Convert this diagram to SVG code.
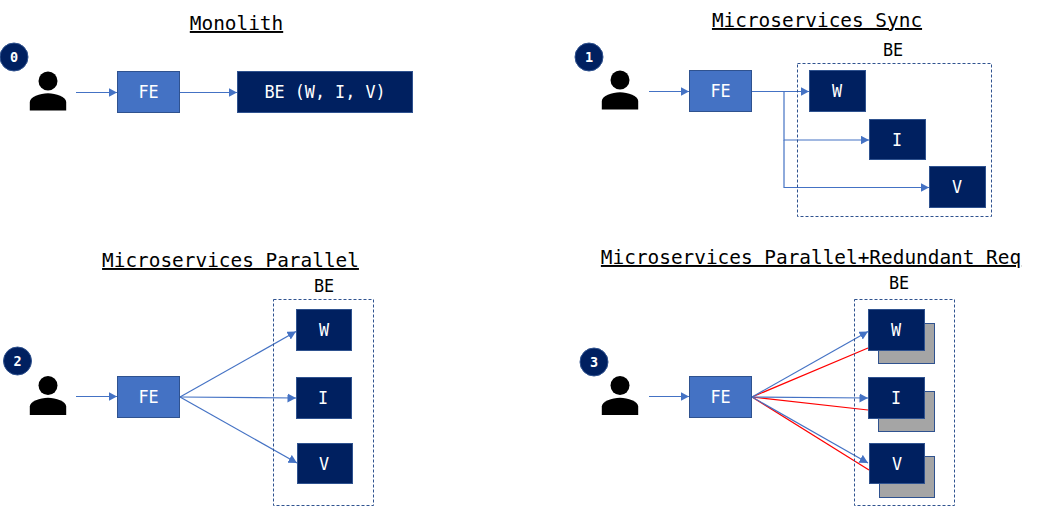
<svg xmlns="http://www.w3.org/2000/svg" width="1039" height="506" viewBox="0 0 1039 506">
<style>
text{font-family:"DejaVu Sans Mono","Liberation Mono",monospace;text-anchor:middle}
.title{font-size:19.4px;fill:#000;text-decoration:underline}
.fe{fill:#4472C4;stroke:#2F528F;stroke-width:1}
.be{fill:#002060;stroke:#2F528F;stroke-width:1}
.shadow{fill:#A5A5A5;stroke:#2F528F;stroke-width:1}
.group{fill:none;stroke:#2F528F;stroke-width:1;stroke-dasharray:3 2}
.lbl{font-size:16.8px;fill:#fff}
.blbl{font-size:16.8px;fill:#000}
.badge{fill:#002060;stroke:#2F528F;stroke-width:1}
.num{font-size:13.5px;font-weight:bold;fill:#fff}
.c{fill:none;stroke:#4472C4;stroke-width:1.2}
.a{marker-end:url(#arrow)}
.r{fill:none;stroke:#FF0000;stroke-width:1.2}
</style>
<defs>
<marker id="arrow" markerUnits="userSpaceOnUse" markerWidth="10" markerHeight="10" refX="8.500" refY="4.500" orient="auto"><path d="M0 0L8.500 4.500L0 9Z" fill="#4472C4"/></marker>
<g id="person"><circle cx="0" cy="0" r="9.5" fill="#000"/><path d="M-18.2 29.5V21C-18.2 16 -8 12.2 0 12.2C8 12.2 18.2 16 18.2 21V29.5Z" fill="#000"/></g>
</defs>

<g id="titles">
<text class="title" x="236.5" y="30">Monolith</text>
<text class="title" x="817" y="27">Microservices Sync</text>
<text class="title" x="230.5" y="267">Microservices Parallel</text>
<text class="title" x="811" y="264">Microservices Parallel+Redundant Req</text>
</g>

<g id="connectors">
<path class="c a" d="M76 92.500H117"/>
<path class="c a" d="M180 92.500H237"/>
<path class="c a" d="M649 91.500H689"/>
<path class="c a" d="M752 91.500H809"/>
<path class="c a" d="M784 91.500V140H869"/>
<path class="c a" d="M784 140V187.500H929"/>
<path class="c a" d="M76 396.500H117"/>
<path class="c a" d="M180 397L296 331.500"/>
<path class="c a" d="M180 397L296 398"/>
<path class="c a" d="M180 397L297 463"/>
<path class="c a" d="M649 396.500H689"/>
<path class="r" d="M752 397L868 348"/>
<path class="r" d="M752 397L868 410"/>
<path class="r" d="M752 397L869 470"/>
<path class="c a" d="M752 397L868 331.500"/>
<path class="c a" d="M752 397L868 398"/>
<path class="c a" d="M752 397L868 463"/>
</g>

<g id="panel0">
<g id="badge0"><circle class="badge" cx="14" cy="57" r="14"/><text class="num" x="14" y="62">0</text></g>
<g id="user0"><use href="#person" x="48" y="81"/></g>
<g id="fe0"><rect class="fe" x="117.500" y="71.500" width="62" height="41"/><text class="lbl" x="148.500" y="98">FE</text></g>
<g id="be0"><rect class="be" x="237.500" y="71.500" width="175" height="41"/><text class="lbl" x="325" y="98">BE (W, I, V)</text></g>
</g>

<g id="panel1">
<g id="badge1"><circle class="badge" cx="589" cy="57" r="14"/><text class="num" x="589" y="62">1</text></g>
<g id="user1"><use href="#person" x="620" y="80"/></g>
<g id="fe1"><rect class="fe" x="689.500" y="70.500" width="62" height="41"/><text class="lbl" x="720.500" y="97">FE</text></g>
<g id="group1"><rect class="group" x="797.500" y="63.500" width="194" height="153"/><text class="blbl" x="893" y="56">BE</text></g>
<g id="w1"><rect class="be" x="809.500" y="70.500" width="56" height="41"/><text class="lbl" x="837" y="97">W</text></g>
<g id="i1"><rect class="be" x="869.500" y="119.500" width="56" height="40"/><text class="lbl" x="897" y="145.500">I</text></g>
<g id="v1"><rect class="be" x="929.500" y="166.500" width="56" height="41"/><text class="lbl" x="957" y="193">V</text></g>
</g>

<g id="panel2">
<g id="badge2"><circle class="badge" cx="17.500" cy="361" r="14"/><text class="num" x="17.500" y="366">2</text></g>
<g id="user2"><use href="#person" x="48" y="385.500"/></g>
<g id="fe2"><rect class="fe" x="117.500" y="376.500" width="62" height="41"/><text class="lbl" x="148.500" y="403">FE</text></g>
<g id="group2"><rect class="group" x="273.500" y="299.500" width="100" height="206"/><text class="blbl" x="324" y="292">BE</text></g>
<g id="w2"><rect class="be" x="296.500" y="309.500" width="55" height="41"/><text class="lbl" x="324" y="336">W</text></g>
<g id="i2"><rect class="be" x="296.500" y="377.500" width="55" height="41"/><text class="lbl" x="323" y="404">I</text></g>
<g id="v2"><rect class="be" x="297.500" y="443.500" width="55" height="40"/><text class="lbl" x="324" y="470">V</text></g>
</g>

<g id="panel3">
<g id="badge3"><circle class="badge" cx="594" cy="362" r="14"/><text class="num" x="594" y="367">3</text></g>
<g id="user3"><use href="#person" x="620" y="385.500"/></g>
<g id="fe3"><rect class="fe" x="689.500" y="376.500" width="62" height="41"/><text class="lbl" x="720.500" y="403">FE</text></g>
<g id="group3"><rect class="group" x="854.500" y="299.500" width="100" height="206"/><text class="blbl" x="899" y="289">BE</text></g>
<g id="w3"><rect class="shadow" x="878.500" y="323.500" width="56" height="40"/><rect class="be" x="868.500" y="309.500" width="56" height="41"/><text class="lbl" x="896" y="336">W</text></g>
<g id="i3"><rect class="shadow" x="878.500" y="391.500" width="56" height="40"/><rect class="be" x="868.500" y="377.500" width="56" height="41"/><text class="lbl" x="896" y="404">I</text></g>
<g id="v3"><rect class="shadow" x="879.500" y="456.500" width="55" height="41"/><rect class="be" x="869.500" y="443.500" width="55" height="40"/><text class="lbl" x="897" y="470">V</text></g>
</g>
</svg>
